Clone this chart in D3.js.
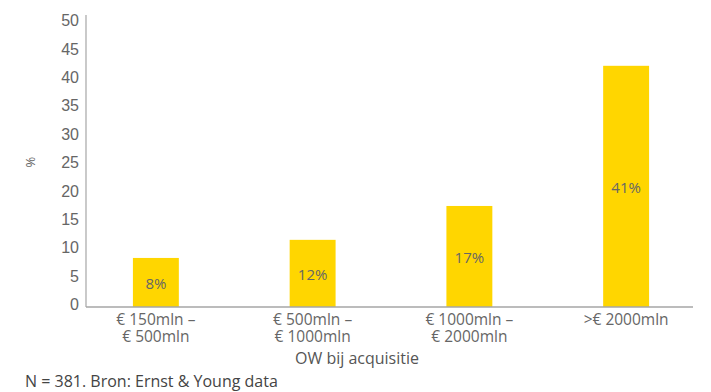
<html>
    <head>
        <meta charset="utf-8">
        <title>OW bij acquisitie</title>
        <script src="https://cdnjs.cloudflare.com/ajax/libs/d3/7.8.5/d3.min.js"></script>
        <style>
            body { margin: 0; background: #fff; }
            svg { display: block; font-family: "Open Sans", "Noto Sans", sans-serif; }
            .tick text { fill: #666; }
        </style>
    </head>
    <body>
        <div id="chart"></div>
        <script>
            // values, labels are the printed percentages
            var categories = ["€ 150mln –|€ 500mln", "€ 500mln –|€ 1000mln", "€ 1000mln –|€ 2000mln", ">€ 2000mln"];
            var values = [8.4, 11.5, 17.3, 41.3];
            var valueLabels = ["8%", "12%", "17%", "41%"];
            var yTicks = [0, 5, 10, 15, 20, 25, 30, 35, 40, 45, 50];

            var width = 711, height = 392;
            var plotLeft = 86, plotRight = 693, plotTop = 15, plotBottom = 307;

            var svg = d3.select("#chart")
                .append("svg")
                .attr("width", width)
                .attr("height", height);

            var x = d3.scaleBand()
                .domain(categories)
                .range([77.5, 704.5])
                .paddingInner(0.707)
                .paddingOuter(0.3535);

            var y = d3.scaleLinear()
                .domain([0, 50])
                .range([plotBottom, plotTop]);

            var data = categories.map(function(c, i) {
                return { cat: c, value: values[i], label: valueLabels[i] };
            });

            // bars
            svg.selectAll("rect.bar")
                .data(data)
                .enter()
                .append("rect")
                .attr("class", "bar")
                .attr("x", function(d) { return x(d.cat); })
                .attr("width", x.bandwidth())
                .attr("y", function(d) { return y(d.value); })
                .attr("height", function(d) { return y(0) - y(d.value); })
                .attr("fill", "#ffd600");

            // value labels in the middle of each bar
            svg.selectAll("text.value")
                .data(data)
                .enter()
                .append("text")
                .attr("class", "value")
                .attr("x", function(d) { return x(d.cat) + x.bandwidth() / 2; })
                .attr("y", function(d) { return (y(d.value) + y(0)) / 2 + 1; })
                .attr("text-anchor", "middle")
                .attr("dy", "0.35em")
                .style("font-size", "15px")
                .style("fill", "#666")
                .text(function(d) { return d.label; });

            // y axis
            var yAxis = svg.append("g")
                .attr("transform", "translate(" + plotLeft + ",0)")
                .call(d3.axisLeft(y).tickValues(yTicks).tickSize(0).tickPadding(7));
            yAxis.select(".domain").remove();
            // labels sit a little off the gridline spacing in the original
            yAxis.selectAll(".tick text")
                .style("font-size", "16px")
                .attr("y", function(d) { return -3 + 8 * d / 50; })
                .attr("dy", "0.35em");

            svg.append("line")
                .attr("x1", plotLeft).attr("x2", plotLeft)
                .attr("y1", plotTop).attr("y2", plotBottom)
                .attr("stroke", "#a6a6a6")
                .attr("stroke-width", 1.2);

            // x axis
            svg.append("line")
                .attr("x1", plotLeft).attr("x2", plotRight)
                .attr("y1", plotBottom).attr("y2", plotBottom)
                .attr("stroke", "#a6a6a6")
                .attr("stroke-width", 1.5);

            // category labels, one text per line
            data.forEach(function(d) {
                var cx = x(d.cat) + x.bandwidth() / 2;
                d.cat.split("|").forEach(function(line, i) {
                    svg.append("text")
                        .attr("class", "cat")
                        .attr("x", cx)
                        .attr("y", 325 + i * 17)
                        .attr("text-anchor", "middle")
                        .style("font-size", "15.5px")
                        .style("fill", "#666")
                        .text(line);
                });
            });

            // axis titles
            svg.append("text")
                .attr("x", 357)
                .attr("y", 364)
                .attr("text-anchor", "middle")
                .style("font-size", "16px")
                .style("fill", "#555")
                .text("OW bij acquisitie");

            svg.append("text")
                .attr("transform", "translate(35,162) rotate(-90)")
                .attr("text-anchor", "middle")
                .style("font-size", "13px")
                .style("fill", "#666")
                .text("%");

            // source note
            svg.append("text")
                .attr("x", 25)
                .attr("y", 387)
                .style("font-size", "16px")
                .style("fill", "#444")
                .text("N = 381. Bron: Ernst & Young data");
        </script>
    </body>
</html>
